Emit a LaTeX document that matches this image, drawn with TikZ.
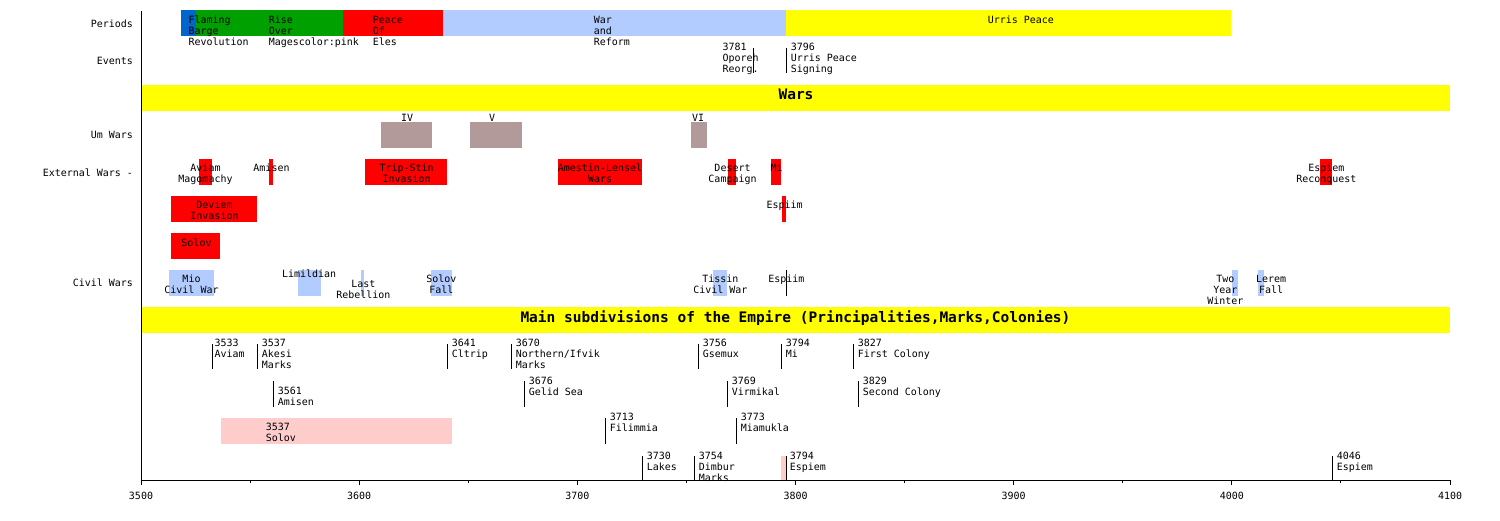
\documentclass[tikz,border=0pt]{standalone}
\usepackage{fontspec}
\newfontfamily\monofam{DejaVu Sans Mono}
\newcommand\tlfont{\monofam\fontsize{9.97pt}{11pt}\selectfont}
\newcommand\hdfont{\monofam\bfseries\fontsize{14.5pt}{16pt}\selectfont}
\definecolor{pblue}{RGB}{0,102,204}
\definecolor{pgreen}{RGB}{0,160,0}
\definecolor{pred}{RGB}{255,0,0}
\definecolor{tyellow}{RGB}{255,255,0}
\definecolor{lblue}{RGB}{179,204,255}
\definecolor{umgray}{RGB}{179,154,154}
\definecolor{spink}{RGB}{255,204,204}
\begin{document}
\begin{tikzpicture}[x=1pt,y=-1pt,
  lbl/.style={font=\tlfont, inner sep=0, align=left, anchor=base west},
  clbl/.style={font=\tlfont, inner sep=0, align=center, anchor=base},
  rowlbl/.style={font=\tlfont, inner sep=0, anchor=base east},
  hdr/.style={font=\hdfont, inner sep=0, anchor=base},
  two/.style={yshift=-11pt},
  three/.style={yshift=-22pt},
  tickline/.style={line width=1pt, black},
  axisline/.style={line width=1pt, black}]
\useasboundingbox (0,0) rectangle (1500,520);
% ---- row labels
\node[rowlbl] (rPer) at (133,27) {Periods};
\node[rowlbl] (rEv) at (133,64) {Events};
\node[rowlbl] (rUm) at (133,138) {Um Wars};
\node[rowlbl] (rExt) at (133,176) {External Wars -};
\node[rowlbl] (rCiv) at (133,286.7) {Civil Wars};
% ---- periods
\fill[pblue] (181,10) rectangle (195.7,36);
\fill[pgreen] (195.7,10) rectangle (343,36);
\fill[pred] (343,10) rectangle (443,36);
\fill[lblue] (443,10) rectangle (786,36);
\fill[tyellow] (786,10) rectangle (1231,36);
\node[lbl,three] (pFlam) at (188.3,23.3) {Flaming\\Barge\\Revolution};
\node[lbl,three] (pRise) at (268.7,23.3) {Rise\\Over\\Magescolor:pink};
\node[lbl,three] (pPeace) at (372.7,23.3) {Peace\\Of\\Eles};
\node[lbl,three] (pWar) at (593.7,23.3) {War\\and\\Reform};
\node[lbl] (pUrris) at (987.7,23.3) {Urris Peace};
% ---- events
\draw[tickline] (753.3,48) -- (753.3,73);
\draw[tickline] (786.3,48) -- (786.3,73);
\node[lbl,three] (e3781) at (722.3,50.7) {3781\\Oporeh\\Reorg.};
\node[lbl,three] (e3796) at (790.7,50.7) {3796\\Urris Peace\\Signing};
% ---- wars header
\fill[tyellow] (141,85) rectangle (1450,111);
\node[hdr] (hWars) at (796,99.3) {Wars};
% ---- um wars
\fill[umgray] (381,122) rectangle (432,147.7);
\fill[umgray] (470,122) rectangle (522,147.7);
\fill[umgray] (691,122) rectangle (707,147.7);
\node[clbl] (uIV) at (407,121.7) {IV};
\node[clbl] (uV) at (492,121.7) {V};
\node[clbl] (uVI) at (698,121.7) {VI};
% ---- external wars row 1
\fill[pred] (199,159) rectangle (211.7,185);
\fill[pred] (269,159) rectangle (273,185);
\fill[pred] (365,159) rectangle (447,185);
\fill[pred] (558,159) rectangle (642,185);
\fill[pred] (728,159) rectangle (736,185);
\fill[pred] (771,159) rectangle (781,185);
\fill[pred] (1320,159) rectangle (1332,185);
\node[clbl,two] (xAviam) at (205.5,171.7) {Aviam\\Magomachy};
\node[clbl] (xAmisen) at (271.5,171.7) {Amisen};
\node[clbl,two] (xTrip) at (406.7,171.7) {Trip-Stin\\Invasion};
\node[clbl,two] (xAmestin) at (600,171.7) {Amestin-Lensel\\Wars};
\node[clbl,two] (xDesert) at (732.5,171.7) {Desert\\Campaign};
\node[clbl] (xMi) at (776.5,171.7) {Mi};
\node[clbl,two] (xEspiem) at (1326.3,171.7) {Espiem\\Reconquest};
% ---- external wars row 2
\fill[pred] (171,196) rectangle (257,221.7);
\fill[pred] (782,196) rectangle (786,221.7);
\node[clbl,two] (xDeviem) at (214.5,208.7) {Deviem\\Invasion};
\node[clbl] (xEspiim) at (784.5,208.7) {Espiim};
% ---- external wars row 3
\fill[pred] (171,233) rectangle (220,258.7);
\node[clbl] (xSolov) at (196.5,246) {Solov};
% ---- civil wars
\fill[lblue] (169,270) rectangle (214,295.7);
\fill[lblue] (298,270) rectangle (321,295.7);
\fill[lblue] (361,270) rectangle (364,295.7);
\fill[lblue] (431,270) rectangle (452,295.7);
\fill[lblue] (713,270) rectangle (727,295.7);
\draw[tickline] (786.3,270) -- (786.3,295.7);
\fill[lblue] (1232,270) rectangle (1238,295.7);
\fill[lblue] (1258,270) rectangle (1264,295.7);
\node[clbl,two] (cMio) at (191.5,282.7) {Mio\\Civil War};
\node[clbl] (cLim) at (309.2,277.7) {Limildian};
\node[clbl,two] (cLast) at (363.3,287.7) {Last\\Rebellion};
\node[clbl,two] (cSolov) at (441.3,282.7) {Solov\\Fall};
\node[clbl,two] (cTissin) at (720.3,282.7) {Tissin\\Civil War};
\node[clbl] (cEspiim) at (786.3,282.7) {Espiim};
\node[clbl,three] (cTwo) at (1225.3,282.7) {Two\\Year\\Winter};
\node[clbl,two] (cLerem) at (1271.2,282.7) {Lerem\\Fall};
% ---- main subdivisions header
\fill[tyellow] (141,307) rectangle (1450,333);
\node[hdr] (hMain) at (795.5,322.5) {Main subdivisions of the Empire (Principalities,Marks,Colonies)};
% ---- subdivisions row A
\foreach \xx in {212.3,257.3,447.3,511.7,698.3,781.3,853.3}
  \draw[tickline] (\xx,344) -- (\xx,369.3);
\node[lbl,two] (s3533) at (214.3,346.7) {3533\\Aviam};
\node[lbl,three] (s3537a) at (261.7,346.7) {3537\\Akesi\\Marks};
\node[lbl,two] (s3641) at (451.7,346.7) {3641\\Cltrip};
\node[lbl,three] (s3670) at (515.7,346.7) {3670\\Northern/Ifvik\\Marks};
\node[lbl,two] (s3756) at (702.7,346.7) {3756\\Gsemux};
\node[lbl,two] (s3794a) at (785.7,346.7) {3794\\Mi};
\node[lbl,two] (s3827) at (857.7,346.7) {3827\\First Colony};
% ---- row B
\foreach \xx in {273.3,524.3,727.3,858.3}
  \draw[tickline] (\xx,381) -- (\xx,406.7);
\node[lbl,two] (s3561) at (277.7,394) {3561\\Amisen};
\node[lbl,two] (s3676) at (528.7,384) {3676\\Gelid Sea};
\node[lbl,two] (s3769) at (731.7,384) {3769\\Virmikal};
\node[lbl,two] (s3829) at (862.7,384) {3829\\Second Colony};
% ---- row C
\fill[spink] (221,418) rectangle (452,443.7);
\node[lbl,two] (s3537b) at (265.7,430.7) {3537\\Solov};
\foreach \xx in {605.3,736.3}
  \draw[tickline] (\xx,418) -- (\xx,443.7);
\node[lbl,two] (s3713) at (609.7,420.7) {3713\\Filimmia};
\node[lbl,two] (s3773) at (740.7,420.7) {3773\\Miamukla};
% ---- row D
\fill[spink] (781.3,456) rectangle (785.7,480);
\foreach \xx in {642.3,694.7,786.3,1332.3}
  \draw[tickline] (\xx,456) -- (\xx,480);
\node[lbl,two] (s3730) at (646.7,459.3) {3730\\Lakes};
\node[lbl,three] (s3754) at (698.7,459.3) {3754\\Dimbur\\Marks};
\node[lbl,two] (s3794b) at (789.7,459.3) {3794\\Espiem};
\node[lbl,two] (s4046) at (1336.7,459.3) {4046\\Espiem};
% ---- axes
\draw[axisline] (141,10.5) -- (141,480);
\draw[axisline] (141,480) -- (1450,480);
\foreach \yr in {3500,3600,...,4100} {
  \pgfmathsetmacro\xx{141+(\yr-3500)*2.181667}
  \draw[axisline] (\xx,480) -- (\xx,485);
  \node[clbl] (t\yr) at (\xx,499.3) {\yr};
}
\foreach \yr in {3550,3650,...,4050} {
  \pgfmathsetmacro\xx{141+(\yr-3500)*2.181667}
  \draw[axisline] (\xx,480) -- (\xx,483);
}
\end{tikzpicture}
\end{document}
